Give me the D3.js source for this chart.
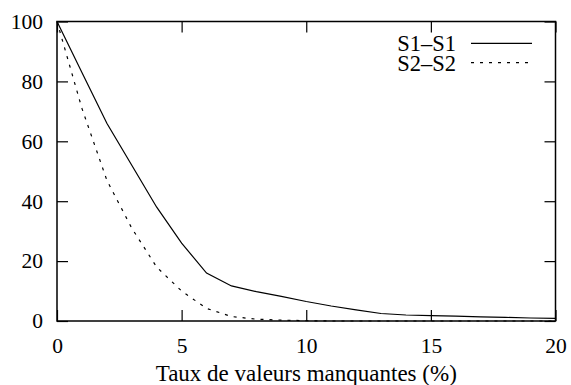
<!DOCTYPE html>
<html>
<head>
<meta charset="utf-8">
<script src="https://cdn.jsdelivr.net/npm/d3@7"></script>
</head>
<body style="margin:0">
<script>
// data
var taux = [0, 1, 2, 3, 4, 5, 6, 7, 8, 9, 10, 11, 12, 13, 14, 15, 16, 17, 18, 19, 20];
var s1s1 = [100, 83, 66, 52, 38, 26, 16, 11.7, 9.8, 8.2, 6.5, 5, 3.7, 2.5, 2, 1.8, 1.6, 1.4, 1.2, 1.0, 0.9];
var s2s2 = [100, 71, 47, 31, 18, 10, 4.2, 1.5, 0.6, 0.3, 0.1, 0, 0, 0, 0, 0, 0, 0, 0, 0, 0];
var xTicks = [0, 5, 10, 15, 20];
var yTicks = [0, 20, 40, 60, 80, 100];
var seriesNames = ["S1\u2013S1", "S2\u2013S2"];

var W = 571,
  H = 385;
var margin = {top: 21.5, bottom: 64, left: 57, right: 15.5};
var serif = "Liberation Serif";

var svg = d3.select('body')
  .append('svg')
  .attr('width', W)
  .attr('height', H);

var xScale = d3.scaleLinear()
  .domain([0, 20])
  .range([margin.left, W - margin.right]);

var yScale = d3.scaleLinear()
  .domain([0, 100])
  .range([H - margin.bottom, margin.top]);

var tickLen = 11;

// axes (gnuplot style, ticks inside, mirrored)
svg.append('g')
  .attr("transform", `translate(0,${H - margin.bottom})`)
  .call(d3.axisBottom(xScale).tickValues(xTicks).tickSize(-tickLen).tickPadding(17).tickFormat(d3.format("d")));
svg.append('g')
  .attr("transform", `translate(0,${margin.top})`)
  .call(d3.axisTop(xScale).tickValues(xTicks).tickSize(-tickLen).tickFormat(""));
svg.append('g')
  .attr("transform", `translate(${margin.left},0)`)
  .call(d3.axisLeft(yScale).tickValues(yTicks).tickSize(-tickLen).tickPadding(14).tickFormat(d3.format("d")));
svg.append('g')
  .attr("transform", `translate(${W - margin.right},0)`)
  .call(d3.axisRight(yScale).tickValues(yTicks).tickSize(-tickLen).tickFormat(""));

svg.selectAll('.domain').remove();
svg.selectAll('g line').attr('stroke', 'black').attr('stroke-width', 1.2);
svg.selectAll('g text').attr('font-size', 21.5);
// drop the axis classes and default font attributes
svg.selectAll('g').attr('class', null).attr('font-family', null).attr('font-size', null);

// frame
svg.append('rect')
  .attr('x', xScale(0))
  .attr('y', yScale(100))
  .attr('width', xScale(20) - xScale(0))
  .attr('height', yScale(0) - yScale(100))
  .attr('fill', 'none')
  .attr('stroke', 'black')
  .attr('stroke-width', 1.5);

// axis title
svg.append('text')
  .attr('x', (xScale(0) + xScale(20)) / 2)
  .attr('y', 381)
  .attr('text-anchor', 'middle')
  .attr('font-size', 23)
  .text('Taux de valeurs manquantes (%)');

// lines
var line = d3.line()
  .x(function(d, i) { return xScale(taux[i]); })
  .y(function(d) { return yScale(d); });

var dashes = [null, "3,6"];
[s1s1, s2s2].forEach(function(s, k) {
  svg.append('path')
    .datum(s)
    .attr('d', line)
    .attr('fill', 'none')
    .attr('stroke', 'black')
    .attr('stroke-width', 1.2)
    .attr('stroke-dasharray', dashes[k]);
});

// legend
var legY = [43.3, 62.7];
seriesNames.forEach(function(name, k) {
  svg.append('text')
    .attr('x', 456)
    .attr('y', legY[k])
    .attr('text-anchor', 'end')
    .attr('dy', '0.35em')
    .attr('font-size', 22.5)
    .text(name);
  svg.append('line')
    .attr('x1', 471).attr('x2', 532)
    .attr('y1', legY[k]).attr('y2', legY[k])
    .attr('stroke', 'black')
    .attr('stroke-width', 1.2)
    .attr('stroke-dasharray', dashes[k]);
});

// serif everywhere, set on each text so nothing overrides it
svg.selectAll('text')
  .attr('font-family', serif)
  .style('font-family', serif, 'important');
</script>
</body>
</html>
